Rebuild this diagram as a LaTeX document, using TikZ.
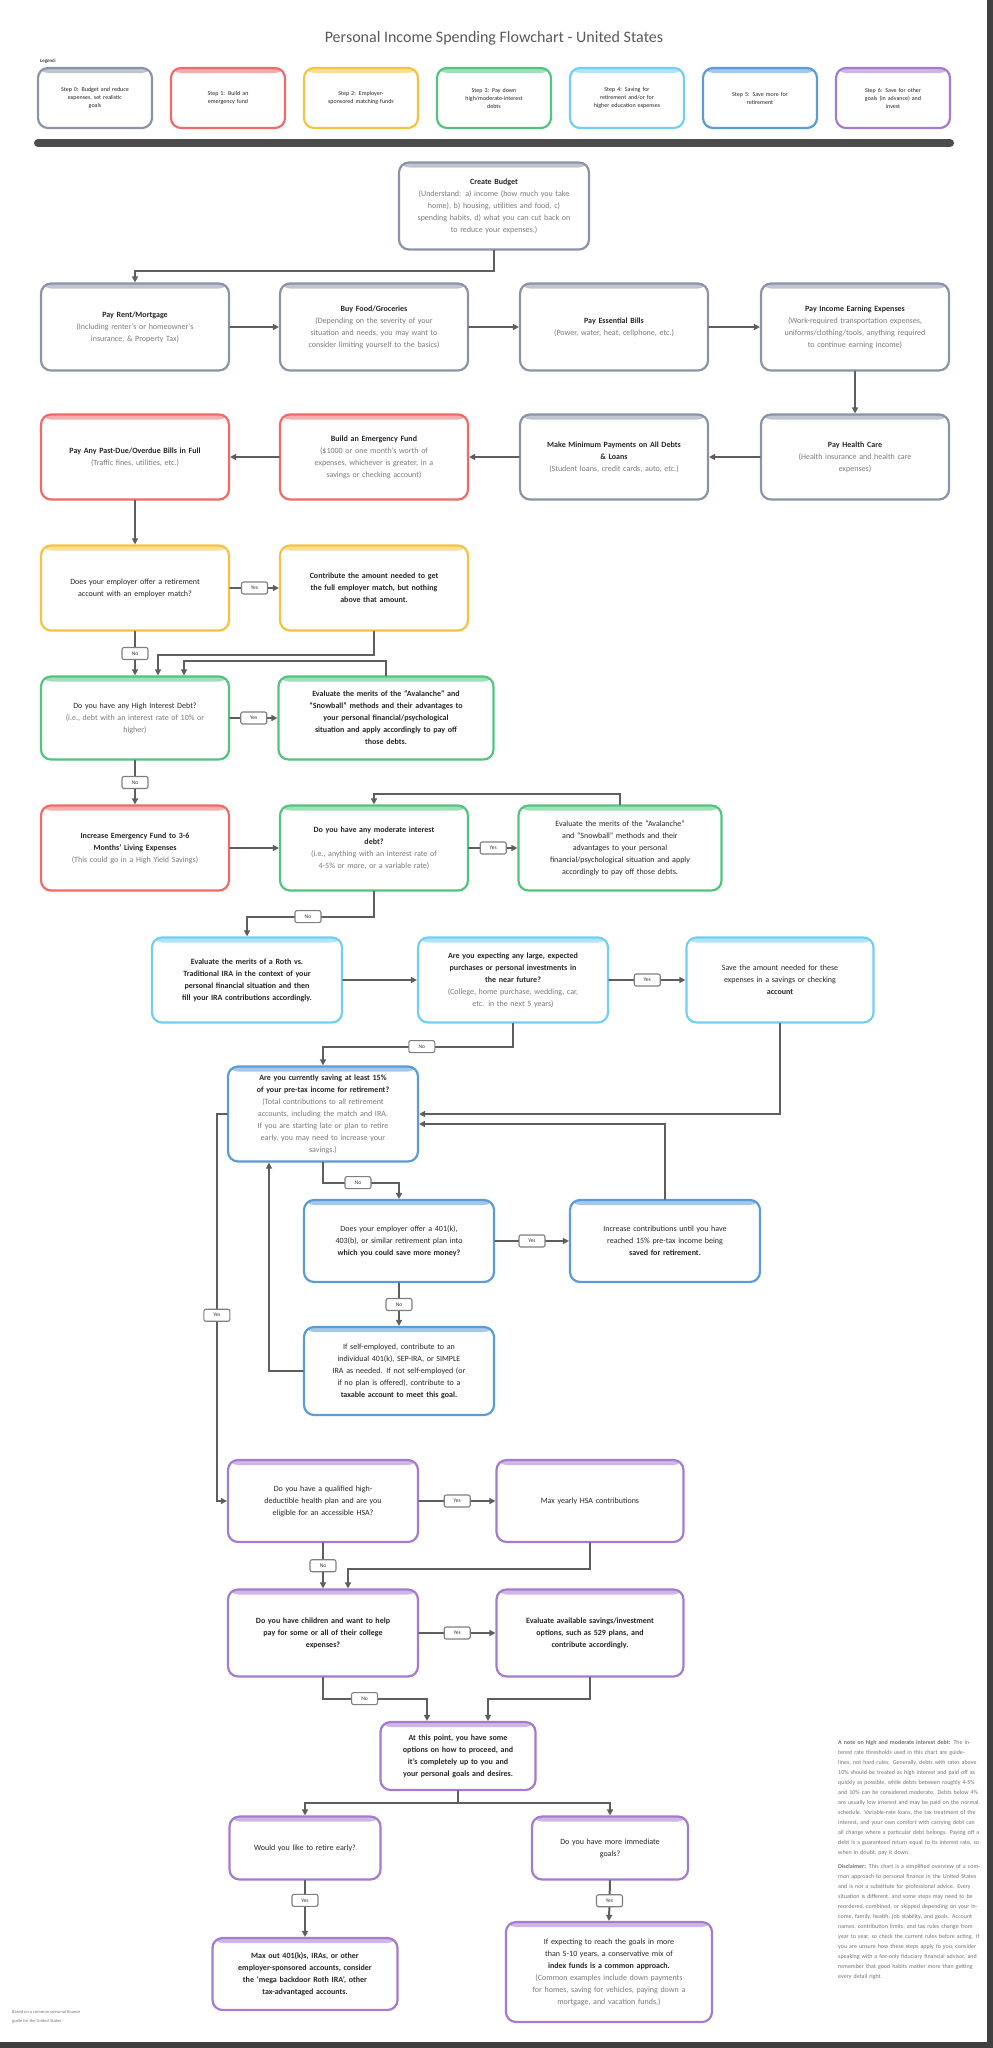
\documentclass[tikz,border=0pt]{standalone}
\usepackage{fontspec}
\setmainfont{Carlito}
\usetikzlibrary{arrows.meta}
\definecolor{cgray}{HTML}{8A94A8}
\definecolor{cred}{HTML}{F06A6A}
\definecolor{cyellow}{HTML}{F5C342}
\definecolor{cgreen}{HTML}{52C47F}
\definecolor{clblue}{HTML}{72CFF2}
\definecolor{cblue}{HTML}{5A9BD8}
\definecolor{cpurple}{HTML}{A57BD0}
\definecolor{cline}{HTML}{5E5E5E}
\definecolor{tgray}{HTML}{7A7A7A}
\newcommand{\boxnote}[1]{{\color{tgray}#1}}
\begin{document}
\begin{tikzpicture}[x=1pt,y=-1pt,line cap=round,
    box/.style={draw=#1,line width=2.2pt,rounded corners=10pt,fill=white,align=center,
      path picture={\fill[#1!55] (path picture bounding box.north west) rectangle ([yshift=-5pt]path picture bounding box.north east);},
      inner xsep=6pt,inner ysep=3pt,font=\fontsize{8}{12}\selectfont,text=black!85},
    key/.style={box=#1,text width=102pt,minimum height=60pt,font=\fontsize{6}{8}\selectfont},
    lbl/.style={draw=cline!80,fill=white,rounded corners=2pt,line width=1.1pt,minimum width=26pt,
      minimum height=12pt,inner sep=1pt,font=\fontsize{5.5}{6}\selectfont,text=black!80},
    arr/.style={draw=cline,line width=2pt,-{Triangle[length=6pt,width=6pt]}}]
  \useasboundingbox (0,0) rectangle (993,2048);
  \node[font=\fontsize{16}{18}\selectfont,text=black!65] (title) at (494,38) {Personal Income Spending Flowchart - United States};
  \node[anchor=west,font=\fontsize{5}{6}\selectfont,inner sep=0pt] (keylbl) at (40,61) {Legend:};
  \foreach \c/\t [count=\i] in {cgray/{Step 0: Budget and reduce\\expenses, set realistic\\goals},
      cred/{Step 1: Build an\\emergency fund},
      cyellow/{Step 2: Employer-\\sponsored matching funds},
      cgreen/{Step 3: Pay down\\high/moderate-interest\\debts},
      clblue/{Step 4: Saving for\\retirement and/or for\\higher education expenses},
      cblue/{Step 5: Save more for\\retirement},
      cpurple/{Step 6: Save for other\\goals (in advance) and\\invest}}
    \node[key=\c] (key\i) at ({95+133*(\i-1)},98) {\t};
  \draw[line width=8pt,black!70] (38,143) -- (950,143);

  \node[box=cgray,text width=178pt,minimum height=87pt] (budget) at (494,206) {\textbf{Create Budget}\\\boxnote{(Understand: a) income (how much you take\\home), b) housing, utilities and food, c)\\spending habits, d) what you can cut back on\\to reduce your expenses.)}};

  \node[box=cgray,text width=176pt,minimum height=87pt] (rent) at (135,327) {\textbf{Pay Rent/Mortgage}\\\boxnote{(Including renter's or homeowner's\\insurance, \& Property Tax)}};
  \node[box=cgray,text width=176pt,minimum height=87pt] (food) at (374,327) {\textbf{Buy Food/Groceries}\\\boxnote{(Depending on the severity of your\\situation and needs, you may want to\\consider limiting yourself to the basics)}};
  \node[box=cgray,text width=176pt,minimum height=87pt] (bills) at (614,327) {\textbf{Pay Essential Bills}\\\boxnote{(Power, water, heat, cellphone, etc.)}};
  \node[box=cgray,text width=176pt,minimum height=87pt] (earn) at (855,327) {\textbf{Pay Income Earning Expenses}\\\boxnote{(Work-required transportation expenses,\\uniforms/clothing/tools, anything required\\to continue earning income)}};

  \node[box=cgray,text width=176pt,minimum height=85pt] (health) at (855,457) {\textbf{Pay Health Care}\\\boxnote{(Health insurance and health care\\expenses)}};
  \node[box=cgray,text width=176pt,minimum height=85pt] (minpay) at (614,457) {\textbf{Make Minimum Payments on All Debts\\\& Loans}\\\boxnote{(Student loans, credit cards, auto, etc.)}};
  \node[box=cred,text width=176pt,minimum height=85pt] (emerg) at (374,457) {\textbf{Build an Emergency Fund}\\\boxnote{(\$1000 or one month's worth of\\expenses, whichever is greater, in a\\savings or checking account)}};
  \node[box=cred,text width=176pt,minimum height=85pt] (pastdue) at (135,457) {\textbf{Pay Any Past-Due/Overdue Bills in Full}\\\boxnote{(Traffic fines, utilities, etc.)}};

  \node[box=cyellow,text width=176pt,minimum height=85pt] (employer) at (135,588) {Does your employer offer a retirement\\account with an employer match?};
  \node[box=cyellow,text width=176pt,minimum height=85pt] (match) at (374,588) {\textbf{Contribute the amount needed to get\\the full employer match, but nothing\\above that amount.}};

  \node[box=cgreen,text width=176pt,minimum height=83pt] (highdebt) at (135,718) {Do you have any High Interest Debt?\\\boxnote{(i.e., debt with an interest rate of 10\% or\\higher)}};
  \node[box=cgreen,text width=203pt,minimum height=83pt] (evalhigh) at (386,718) {\textbf{Evaluate the merits of the ``Avalanche'' and\\``Snowball'' methods and their advantages to\\your personal financial/psychological\\situation and apply accordingly to pay off\\those debts.}};

  \node[box=cred,text width=176pt,minimum height=85pt] (efund) at (135,848) {\textbf{Increase Emergency Fund to 3-6\\Months' Living Expenses}\\\boxnote{(This could go in a High Yield Savings)}};
  \node[box=cgreen,text width=176pt,minimum height=85pt] (moddebt) at (374,848) {\textbf{Do you have any moderate interest\\debt?}\\\boxnote{(i.e., anything with an interest rate of\\4-5\% or more, or a variable rate)}};
  \node[box=cgreen,text width=191pt,minimum height=85pt] (evalmod) at (620,848) {Evaluate the merits of the ``Avalanche''\\and ``Snowball'' methods and their\\advantages to your personal\\financial/psychological situation and apply\\accordingly to pay off those debts.};

  \node[box=clblue,text width=178pt,minimum height=85pt] (roth) at (247,980) {\textbf{Evaluate the merits of a Roth vs.\\Traditional IRA in the context of your\\personal financial situation and then\\fill your IRA contributions accordingly.}};
  \node[box=clblue,text width=178pt,minimum height=85pt] (purchases) at (513,980) {\textbf{Are you expecting any large, expected\\purchases or personal investments in\\the near future?}\\\boxnote{(College, home purchase, wedding, car,\\etc. in the next 5 years)}};
  \node[box=clblue,text width=175pt,minimum height=85pt] (savebig) at (780,980) {Save the amount needed for these\\expenses in a savings or checking\\\textbf{account}};

  \node[box=cblue,text width=178pt,minimum height=95pt] (retire) at (323,1114) {\textbf{Are you currently saving at least 15\%\\of your pre-tax income for retirement?}\\\boxnote{(Total contributions to all retirement\\accounts, including the match and IRA.\\If you are starting late or plan to retire\\early, you may need to increase your\\savings.)}};
  \node[box=cblue,text width=178pt,minimum height=82pt] (plan) at (399,1241) {Does your employer offer a 401(k),\\403(b), or similar retirement plan into\\\textbf{which you could save more money?}};
  \node[box=cblue,text width=178pt,minimum height=82pt] (increase) at (665,1241) {Increase contributions until you have\\reached 15\% pre-tax income being\\\textbf{saved for retirement.}};
  \node[box=cblue,text width=178pt,minimum height=88pt] (selfemp) at (399,1371) {If self-employed, contribute to an\\individual 401(k), SEP-IRA, or SIMPLE\\IRA as needed. If not self-employed (or\\if no plan is offered), contribute to a\\\textbf{taxable account to meet this goal.}};

  \node[box=cpurple,text width=178pt,minimum height=82pt] (hdhp) at (323,1501) {Do you have a qualified high-\\deductible health plan and are you\\eligible for an accessible HSA?};
  \node[box=cpurple,text width=175pt,minimum height=82pt] (hsa) at (590,1501) {Max yearly HSA contributions};
  \node[box=cpurple,text width=178pt,minimum height=87pt] (children) at (323,1633) {\textbf{Do you have children and want to help\\pay for some or all of their college\\expenses?}};
  \node[box=cpurple,text width=175pt,minimum height=87pt] (college) at (590,1633) {\textbf{Evaluate available savings/investment\\options, such as 529 plans, and\\contribute accordingly.}};
  \node[box=cpurple,text width=143pt,minimum height=68pt] (options) at (458,1756) {\textbf{At this point, you have some\\options on how to proceed, and\\it's completely up to you and\\your personal goals and desires.}};
  \node[box=cpurple,text width=139pt,minimum height=63pt] (early) at (305,1848) {Would you like to retire early?};
  \node[box=cpurple,text width=144pt,minimum height=63pt] (goals) at (610,1848) {Do you have more immediate\\goals?};
  \node[box=cpurple,text width=173pt,minimum height=72pt] (earlyact) at (305,1974) {\textbf{Max out 401(k)s, IRAs, or other\\employer-sponsored accounts, consider\\the `mega backdoor Roth IRA', other\\tax-advantaged accounts.}};
  \node[box=cpurple,text width=194pt,minimum height=100pt] (goalsact) at (609,1972) {If expecting to reach the goals in more\\than 5-10 years, a conservative mix of\\\textbf{index funds is a common approach.}\\\boxnote{(Common examples include down payments\\for homes, saving for vehicles, paying down a\\mortgage, and vacation funds.)}};

  \draw[arr] (budget.south) -- ++(0,20) -| (rent.north);
  \draw[arr] (rent.east) -- (food.west);
  \draw[arr] (food.east) -- (bills.west);
  \draw[arr] (bills.east) -- (earn.west);
  \draw[arr] (earn.south) -- (health.north);
  \draw[arr] (health.west) -- (minpay.east);
  \draw[arr] (minpay.west) -- (emerg.east);
  \draw[arr] (emerg.west) -- (pastdue.east);
  \draw[arr] (pastdue.south) -- (employer.north);
  \draw[arr] (employer.east) -- node[lbl]{Yes} (match.west);
  \draw[arr] (employer.south) -- node[lbl]{No} (highdebt.north);
  \draw[arr] (match.south) -- ++(0,23) -| ([xshift=23pt]highdebt.north);
  \draw[arr] (evalhigh.north) -- ++(0,-14) -| ([xshift=49pt]highdebt.north);
  \draw[arr] (highdebt.east) -- node[lbl]{Yes} (evalhigh.west);
  \draw[arr] (highdebt.south) -- node[lbl]{No} (efund.north);
  \draw[arr] (efund.east) -- (moddebt.west);
  \draw[arr] (moddebt.east) -- node[lbl]{Yes} (evalmod.west);
  \draw[arr] (evalmod.north) -- ++(0,-10) -| (moddebt.north);
  \draw[arr] (moddebt.south) -- ++(0,25) -| node[lbl,pos=0.26]{No} (roth.north);
  \draw[arr] (roth.east) -- (purchases.west);
  \draw[arr] (purchases.east) -- node[lbl]{Yes} (savebig.west);
  \draw[arr] (purchases.south) -- ++(0,23) -| node[lbl,pos=0.24]{No} (retire.north);
  \draw[arr] (savebig.south) |- (retire.east);
  \draw[arr] (increase.north) |- ([yshift=-10pt]retire.east);
  \draw[arr] (retire.west) -- ++(-10,0) |- node[lbl,pos=0.26]{Yes} (hdhp.west);
  \draw[arr] (selfemp.west) -| ([xshift=-54pt]retire.south);
  \draw[arr] (retire.south) -- ++(0,20) -| node[lbl,pos=0.23]{No} (plan.north);
  \draw[arr] (plan.east) -- node[lbl]{Yes} (increase.west);
  \draw[arr] (plan.south) -- node[lbl]{No} (selfemp.north);
  \draw[arr] (hdhp.east) -- node[lbl]{Yes} (hsa.west);
  \draw[arr] (hdhp.south) -- node[lbl]{No} (children.north);
  \draw[arr] (hsa.south) -- ++(0,26) -| ([xshift=25pt]children.north);
  \draw[arr] (children.east) -- node[lbl]{Yes} (college.west);
  \draw[arr] (children.south) -- ++(0,21) -| node[lbl,pos=0.2]{No} ([xshift=-31pt]options.north);
  \draw[arr] (college.south) -- ++(0,21) -| ([xshift=30pt]options.north);
  \draw[arr] (options.south) -- ++(0,12) -| (early.north);
  \draw[arr] (options.south) -- ++(0,12) -| (goals.north);
  \draw[arr] (early.south) -- node[lbl,pos=0.35]{Yes} (earlyact.north);
  \draw[arr] (goals.south) -- node[lbl]{Yes} (goalsact.north);

  \node[anchor=north west,text width=142pt,align=left,font=\fontsize{6}{10}\selectfont,text=black!55,inner sep=0pt] (notes) at (838,1740) {\textbf{A note on high and moderate interest debt:} The interest rate thresholds used in this chart are guidelines, not hard rules. Generally, debts with rates above 10\% should be treated as high interest and paid off as quickly as possible, while debts between roughly 4-5\% and 10\% can be considered moderate. Debts below 4\% are usually low interest and may be paid on the normal schedule. Variable-rate loans, the tax treatment of the interest, and your own comfort with carrying debt can all change where a particular debt belongs. Paying off a debt is a guaranteed return equal to its interest rate, so when in doubt, pay it down.\par\vspace{4pt}
    \textbf{Disclaimer:} This chart is a simplified overview of a common approach to personal finance in the United States and is not a substitute for professional advice. Every situation is different, and some steps may need to be reordered, combined, or skipped depending on your income, family, health, job stability, and goals. Account names, contribution limits, and tax rules change from year to year, so check the current rules before acting. If you are unsure how these steps apply to you, consider speaking with a fee-only fiduciary financial advisor, and remember that good habits matter more than getting every detail right.};
  \node[anchor=north west,align=left,font=\fontsize{4.5}{9}\selectfont,text=black!55,inner sep=0pt] (credit) at (12,2010) {Based on a common personal finance\\guide for the United States};
  \fill[black!75] (987,0) rectangle (993,2048);
  \fill[black!75] (0,2042) rectangle (993,2048);
\end{tikzpicture}
\end{document}
